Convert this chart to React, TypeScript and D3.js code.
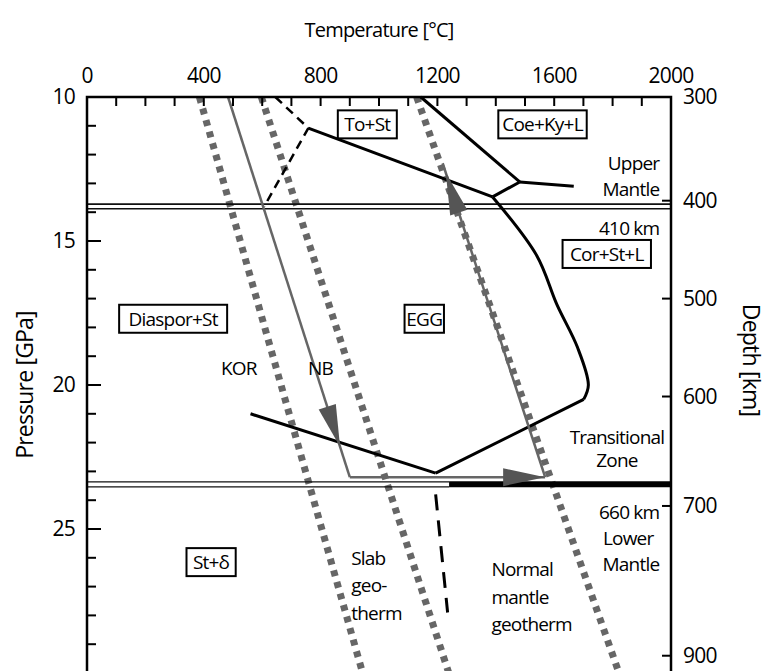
import * as d3 from "d3";

const W = 771, H = 671;
const FONT = "'Open Sans', Lato, sans-serif";

// temperature [°C], pressure [GPa]
const tempTicks = [0, 400, 800, 1200, 1600, 2000];
const pressTicks = [10, 15, 20, 25];
const depthTicks = [
  { km: 300, p: 10 }, { km: 400, p: 13.6 }, { km: 500, p: 17.0 },
  { km: 600, p: 20.4 }, { km: 700, p: 24.2 }, { km: 900, p: 29.4 },
];

// geotherms (thick dotted)
const geotherms = [
  [[385, 10], [944, 30]],
  [[597, 10], [1239, 30]],
  [[1129, 10], [1822, 30]],
];

// P-T path (grey)
const pathKOR = [[483, 10], [900, 23.2]];
const pathFlat = [[900, 23.2], [1569, 23.2]];
const pathUp = [[1569, 23.2], [1218, 12.3]];

// phase boundaries
const dashedA = [[645, 10], [758, 11.08], [607, 13.8]];
const solidA = [[758, 11.08], [1389, 13.47]];
const solidB = [[1143, 10], [1482, 12.95]];
const solidC = [[1482, 12.95], [1667, 13.1]];
const solidD = [[1482, 12.95], [1389, 13.47]];
const solidE = [[1389, 13.47], [1540, 15.5], [1609, 17.2], [1680, 18.7], [1717, 20.0], [1701, 20.5], [1194, 23.06]];
const solidF = [[560, 21.0], [1194, 23.06]];
const dashedB = [[1194, 23.8], [1235, 27.9]];

const p410 = [13.72, 13.88];
const p660 = 23.45;

const boxed = [
  { t: "To+St", T: 960, P: 10.95 },
  { t: "Coe+Ky+L", T: 1560, P: 10.95 },
  { t: "Cor+St+L", T: 1780, P: 15.45 },
  { t: "Diaspor+St", T: 295, P: 17.7 },
  { t: "EGG", T: 1155, P: 17.7 },
  { t: "St+δ", T: 425, P: 26.15 },
];
const plain = [
  { t: "Upper", T: 1960, P: 12.3, a: "end" },
  { t: "Mantle", T: 1960, P: 13.2, a: "end" },
  { t: "410 km", T: 1960, P: 14.55, a: "end" },
  { t: "KOR", T: 520, P: 19.4, a: "middle" },
  { t: "NB", T: 800, P: 19.4, a: "middle" },
  { t: "Transitional", T: 1815, P: 21.8, a: "middle" },
  { t: "Zone", T: 1815, P: 22.6, a: "middle" },
  { t: "660 km", T: 1960, P: 24.4, a: "end" },
  { t: "Lower", T: 1940, P: 25.3, a: "end" },
  { t: "Mantle", T: 1960, P: 26.2, a: "end" },
  { t: "Slab", T: 905, P: 26.0, a: "start" },
  { t: "geo-", T: 905, P: 26.95, a: "start" },
  { t: "therm", T: 905, P: 27.9, a: "start" },
  { t: "Normal", T: 1385, P: 26.4, a: "start" },
  { t: "mantle", T: 1385, P: 27.35, a: "start" },
  { t: "geotherm", T: 1385, P: 28.3, a: "start" },
];

export default function App() {
  const x = d3.scaleLinear([0, 2000], [87, 671]);
  const y = d3.scaleLinear([10, 30], [97, 673]);
  const line = d3.line<number[]>().x(d => x(d[0])).y(d => y(d[1]));
  const smooth = d3.line<number[]>().x(d => x(d[0])).y(d => y(d[1])).curve(d3.curveCatmullRom);

  const arrow = (pts: number[][], f: number, key: string) => {
    const [a, b] = pts;
    const x1 = x(a[0]), y1 = y(a[1]), x2 = x(b[0]), y2 = y(b[1]);
    const px = x1 + (x2 - x1) * f, py = y1 + (y2 - y1) * f;
    const ang = (Math.atan2(y2 - y1, x2 - x1) * 180) / Math.PI;
    return (
      <polygon key={key} points="0,0 -42,-9 -42,9" fill="#555"
        transform={`translate(${px},${py}) rotate(${ang})`} />
    );
  };

  const minorT = d3.range(100, 2000, 100);
  const minorP = d3.range(11, 30, 1);

  return (
    <svg width={W} height={H} style={{ position: "absolute", left: 0, top: 0, background: "#fff" }}
      fontFamily={FONT} letterSpacing={-0.8}>
      <defs>
        <clipPath id="plot"><rect x={x(0)} y={y(10)} width={x(2000) - x(0)} height={H - y(10)} /></clipPath>
      </defs>

      {/* geotherms */}
      <g clipPath="url(#plot)">
        {geotherms.map((g, i) => (
          <path key={i} d={line(g)!} fill="none" stroke="#666" strokeWidth={7} strokeDasharray="6,6" />
        ))}
      </g>

      {/* discontinuities */}
      {p410.map((p, i) => (
        <line key={i} x1={x(0)} x2={x(2000)} y1={y(p)} y2={y(p)} stroke="#111" strokeWidth={1.6} />
      ))}
      <line x1={x(0)} x2={x(1240)} y1={y(p660) - 2.5} y2={y(p660) - 2.5} stroke="#111" strokeWidth={1.4} />
      <line x1={x(0)} x2={x(1240)} y1={y(p660) + 2.5} y2={y(p660) + 2.5} stroke="#111" strokeWidth={1.4} />
      <line x1={x(1240)} x2={x(2000)} y1={y(p660)} y2={y(p660)} stroke="#000" strokeWidth={6} />

      {/* phase boundaries */}
      <g fill="none" stroke="#000" strokeWidth={3} strokeLinejoin="round">
        <path d={line(dashedA)!} strokeWidth={2.5} strokeDasharray="9,6" />
        <path d={line(solidA)!} />
        <path d={line(solidB)!} />
        <path d={line(solidC)!} />
        <path d={line(solidD)!} />
        <path d={smooth(solidE.slice(0, 6))!} />
        <path d={line(solidE.slice(5))!} />
        <path d={line(solidF)!} />
        <path d={line(dashedB)!} strokeDasharray="16,10" />
      </g>

      {/* P-T path */}
      <g fill="none" stroke="#666" strokeWidth={2.5}>
        <path d={line(pathKOR)!} />
        <path d={line(pathFlat)!} />
        <path d={line(pathUp)!} />
      </g>
      {arrow(pathKOR, 0.92, "a1")}
      {arrow(pathFlat, 1, "a2")}
      {arrow(pathUp, 0.97, "a3")}

      {/* frame */}
      <rect x={x(0)} y={y(10)} width={x(2000) - x(0)} height={H + 10 - y(10)} fill="none" stroke="#000" strokeWidth={2.5} />

      {/* ticks */}
      <g stroke="#000" strokeWidth={2}>
        {minorT.map(t => <line key={t} x1={x(t)} x2={x(t)} y1={y(10)} y2={y(10) + 9} />)}
        {minorP.map(p => <line key={p} x1={x(0)} x2={x(0) + (p % 5 === 0 ? 14 : 9)} y1={y(p)} y2={y(p)} />)}
        {depthTicks.map(d => <line key={d.km} x1={x(2000)} x2={x(2000) - 9} y1={y(d.p)} y2={y(d.p)} />)}
      </g>

      <g fontSize={21} fill="#000">
        {tempTicks.map(t => (
          <text key={t} x={x(t)} y={y(10) - 14} textAnchor="middle">{t}</text>
        ))}
        {pressTicks.map(p => (
          <text key={p} x={x(0) - 12} y={y(p) + 7} textAnchor="end">{p}</text>
        ))}
        {depthTicks.map(d => (
          <text key={d.km} x={x(2000) + 12} y={y(d.p) + 7} textAnchor="start">{d.km}</text>
        ))}
      </g>

      <text x={(x(0) + x(2000)) / 2} y={37} textAnchor="middle" fontSize={20}>Temperature [°C]</text>
      <text transform={`translate(33,${y(20)}) rotate(-90)`} textAnchor="middle" fontSize={23}>Pressure [GPa]</text>
      <text transform={`translate(743,${y(20) - 25}) rotate(90)`} textAnchor="middle" fontSize={23}>Depth [km]</text>

      {/* labels */}
      <g fontSize={19}>
        {boxed.map(b => {
          const w = b.t.length * 9.8 + 10;
          return (
            <g key={b.t}>
              <rect x={x(b.T) - w / 2} y={y(b.P) - 14} width={w} height={28} fill="#fff" stroke="#000" strokeWidth={2} />
              <text x={x(b.T)} y={y(b.P) + 7} textAnchor="middle">{b.t}</text>
            </g>
          );
        })}
        {plain.map((p, i) => (
          <text key={i} x={x(p.T)} y={y(p.P) + 7} textAnchor={p.a as any}>{p.t}</text>
        ))}
      </g>
    </svg>
  );
}
